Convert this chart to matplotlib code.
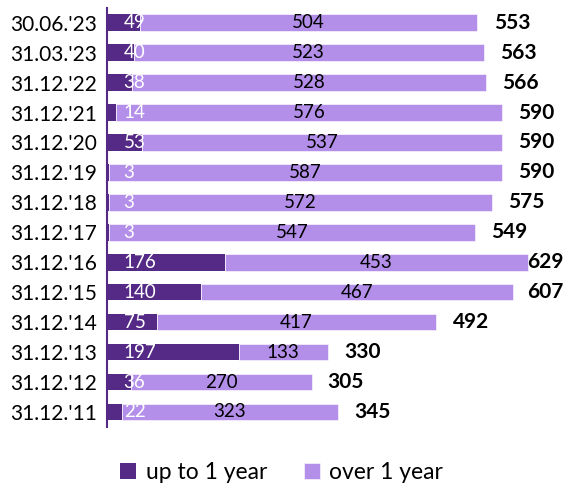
import matplotlib.pyplot as plt
import numpy as np

# data, top to bottom as in the picture
datas = ["30.06.'23", "31.03.'23", "31.12.'22", "31.12.'21", "31.12.'20", "31.12.'19",
         "31.12.'18", "31.12.'17", "31.12.'16", "31.12.'15", "31.12.'14", "31.12.'13",
         "31.12.'12", "31.12.'11"]
ate_1_ano = [49, 40, 38, 14, 53, 3, 3, 3, 176, 140, 75, 197, 36, 22]
mais_1_ano = [504, 523, 528, 576, 537, 587, 572, 547, 453, 467, 417, 133, 270, 323]
totais = [553, 563, 566, 590, 590, 590, 575, 549, 629, 607, 492, 330, 305, 345]

escuro = '#552a86'
claro = '#b48fea'
fonte = 'Lato'

fig = plt.figure(figsize=(5.63, 4.83), dpi=100)
ax = fig.add_axes([0.19, 0.116, 0.808, 0.868])

y = np.arange(len(datas))
ax.barh(y, ate_1_ano, height=0.55, color=escuro, label='up to 1 year')
ax.barh(y, mais_1_ano, left=ate_1_ano, height=0.55, color=claro,
        edgecolor='white', linewidth=0.4, label='over 1 year')

for i in range(len(datas)):
    ax.text(25, y[i], str(ate_1_ano[i]), color='white', ha='left', va='center',
            fontsize=13.5, family=fonte)
    ax.text(ate_1_ano[i] + mais_1_ano[i] / 2, y[i], str(mais_1_ano[i]), color='black',
            ha='center', va='center', fontsize=13.5, family=fonte)
    xt = min(totais[i] + 25, 628)
    ax.text(xt, y[i], str(totais[i]), color='black', ha='left', va='center',
            fontsize=15, fontweight='bold', family=fonte)

ax.set_ylim(len(datas) - 0.5, -0.5)
ax.set_xlim(0, 680)
ax.set_yticks(y)
ax.set_yticklabels(datas, family=fonte, fontsize=15)
ax.tick_params(axis='y', length=0, pad=7)
ax.set_xticks([])
for s in ['top', 'right', 'bottom']:
    ax.spines[s].set_visible(False)
ax.spines['left'].set_color(escuro)
ax.spines['left'].set_linewidth(1.5)

fig.legend(loc='lower center', bbox_to_anchor=(0.5, -0.042), ncol=2, frameon=False,
           prop={'family': fonte, 'size': 16.5}, handlelength=0.7, handleheight=0.7,
           handletextpad=0.4, columnspacing=1.6)

fig.savefig('out.png', dpi=100)
